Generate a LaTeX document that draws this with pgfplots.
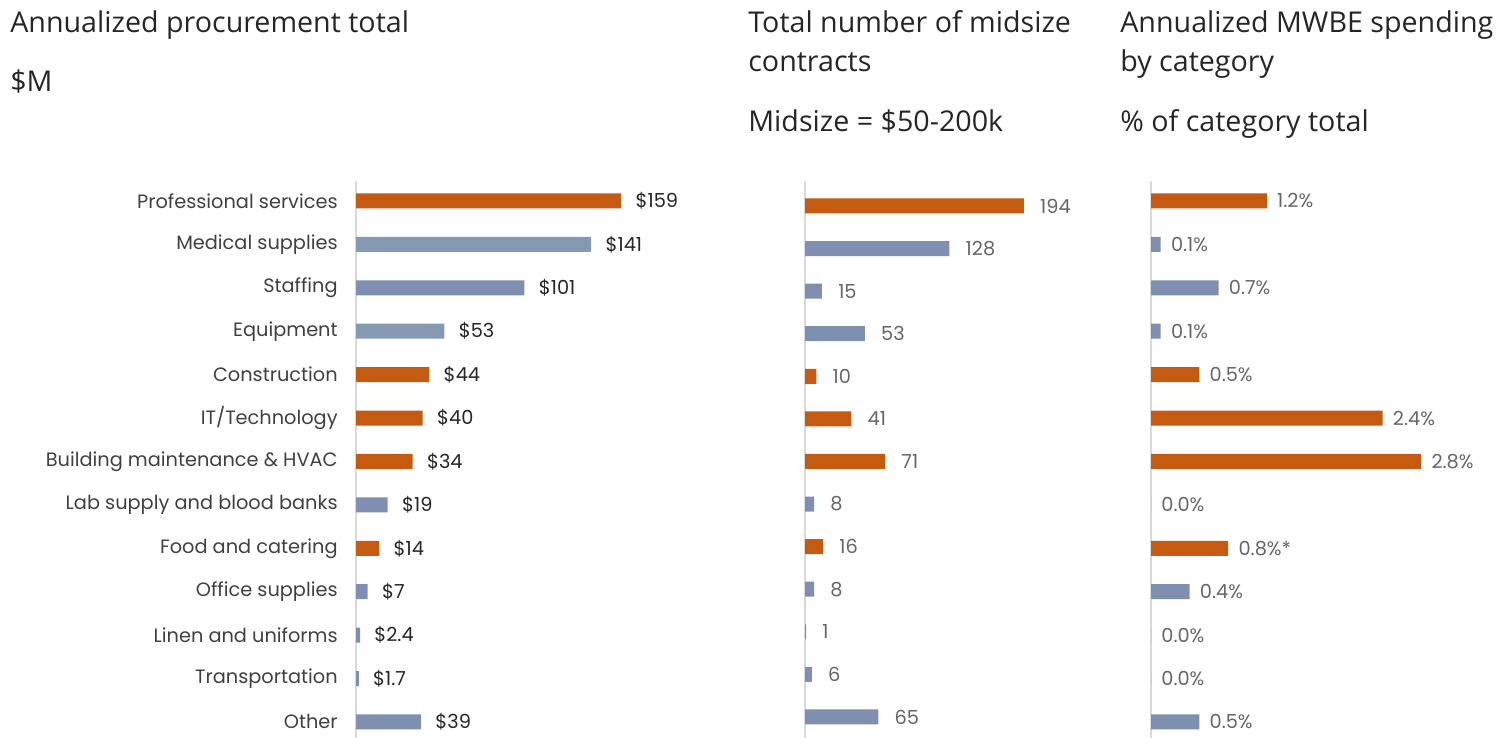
\documentclass[border=0pt]{standalone}
\usepackage{fontspec}
\setmainfont{Open Sans}
\newfontfamily\lblfont{Poppins}
\usepackage{pgfplots}
\pgfplotsset{compat=1.18}

\definecolor{procorange}{HTML}{C55A11}
\definecolor{procblue}{HTML}{7F8FB1}
\definecolor{proclight}{HTML}{8699B3}
\definecolor{axisgrey}{HTML}{D9D9D9}
\definecolor{titletext}{HTML}{262626}
\definecolor{cattext}{HTML}{404040}
\definecolor{numgrey}{HTML}{666666}

% 1px of the reference = 0.02cm
\pgfplotsset{
  barpanel/.style={
    xbar, bar shift=0pt, bar width=0.3cm,
    scale only axis, height=11.14cm, anchor=south west,
    axis x line=none, axis y line*=left,
    y axis line style={draw=axisgrey, line width=0.8pt, -},
    xmin=0, clip=false, major tick length=0pt, ytick=\empty,
    point meta=explicit symbolic, nodes near coords,
    every node near coord/.append style={anchor=west, inner sep=0pt,
      font=\lblfont\fontsize{11}{13}\selectfont},
  },
}

\begin{document}
\begin{tikzpicture}
\path[use as bounding box] (0,0) rectangle (30.22cm,14.76cm);

\begin{scope}[every node/.style={anchor=base west, inner sep=0pt, text=titletext,
    font=\fontsize{16.3}{19}\selectfont}]
  \node at (0.2cm,14.10cm) {Annualized procurement total};
  \node at (0.2cm,12.92cm) {\$M};
  \node at (14.96cm,14.10cm) {Total number of midsize};
  \node at (14.96cm,13.32cm) {contracts};
  \node at (14.96cm,12.12cm) {Midsize = \$50-200k};
  \node at (22.40cm,14.10cm) {Annualized MWBE spending};
  \node at (22.40cm,13.32cm) {by category};
  \node at (22.40cm,12.12cm) {\% of category total};
\end{scope}

% Panel 1: annualized procurement total, $M
\begin{axis}[barpanel, at={(7.12cm,0cm)}, width=6.005cm,
  xmax=180, ymin=-0.37, ymax=12.46,
  ytick={0,...,12},
  yticklabels={Other,Transportation,Linen and uniforms,Office supplies,Food and catering,Lab supply and blood banks,Building maintenance \& HVAC,IT/Technology,Construction,Equipment,Staffing,Medical supplies,Professional services},
  yticklabel style={anchor=east, inner sep=0pt, xshift=-0.36cm, text=cattext,
    font=\lblfont\fontsize{11}{13}\selectfont},
  every node near coord/.append style={xshift=0.28cm, text=black!85},
]
\addplot[fill=procorange, draw=none, bar shift=0pt] coordinates {
  (159,12) [\$159] (44,8) [\$44] (40,7) [\$40] (34,6) [\$34] (14,4) [\$14]};
\addplot[fill=proclight, draw=none, bar shift=0pt] coordinates {
  (141,11) [\$141] (53,9) [\$53]};
\addplot[fill=procblue, draw=none, bar shift=0pt] coordinates {
  (101,10) [\$101] (19,5) [\$19] (7,3) [\$7] (2.4,2) [\$2.4] (1.7,1) [\$1.7] (39,0) [\$39]};
\end{axis}

% Panel 2: number of midsize contracts
\begin{axis}[barpanel, at={(16.10cm,0cm)}, width=4.512cm,
  xmax=200, ymin=-0.493, ymax=12.587,
  every node near coord/.append style={xshift=0.32cm, text=numgrey},
]
\addplot[fill=procorange, draw=none, bar shift=0pt] coordinates {
  (194,12) [194] (10,8) [10] (41,7) [41] (71,6) [71] (16,4) [16]};
\addplot[fill=procblue, draw=none, bar shift=0pt] coordinates {
  (128,11) [128] (15,10) [15] (53,9) [53] (8,5) [8] (8,3) [8] (1,2) [1] (6,1) [6] (65,0) [65]};
\end{axis}

% Panel 3: MWBE share of category
\begin{axis}[barpanel, at={(23.02cm,0cm)}, width=5.79cm,
  xmax=3, ymin=-0.37, ymax=12.46,
  every node near coord/.append style={xshift=0.2cm, text=numgrey},
]
\addplot[fill=procorange, draw=none, bar shift=0pt] coordinates {
  (1.2,12) [1.2\%] (0.5,8) [0.5\%] (2.4,7) [2.4\%] (2.8,6) [2.8\%] (0.8,4) [0.8\%*]};
\addplot[fill=procblue, draw=none, bar shift=0pt] coordinates {
  (0.1,11) [0.1\%] (0.7,10) [0.7\%] (0.1,9) [0.1\%] (0,5) [0.0\%] (0.4,3) [0.4\%]
  (0,2) [0.0\%] (0,1) [0.0\%] (0.5,0) [0.5\%]};
\end{axis}
\end{tikzpicture}
\end{document}
